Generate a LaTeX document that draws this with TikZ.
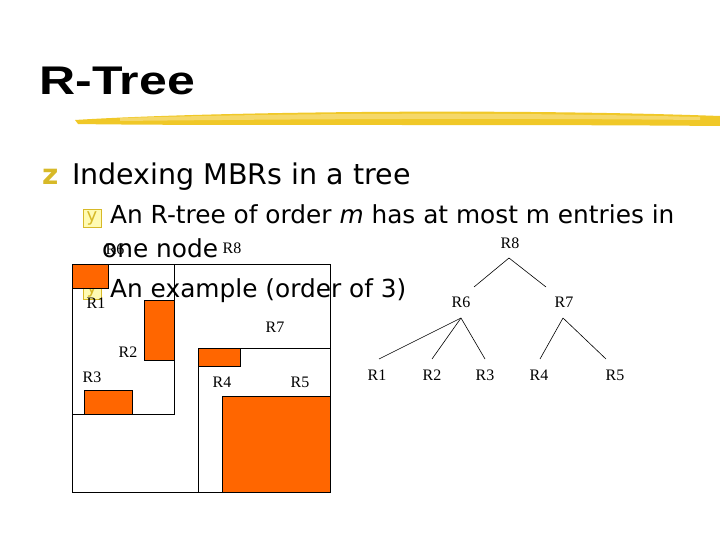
\documentclass[tikz,border=0pt]{standalone}
\usepackage{fontspec}
\setmainfont{Liberation Serif}
\newfontfamily\bodyf{DejaVu Sans}
\newfontfamily\titlef{Liberation Sans}
\definecolor{orng}{RGB}{255,102,0}
\definecolor{gold}{RGB}{240,200,40}
\definecolor{bul}{RGB}{215,185,40}
\begin{document}
\begin{tikzpicture}[x=1pt,y=-1pt,
  box/.style={draw=black,line width=0.8pt},
  obj/.style={draw=black,fill=orng,line width=0.8pt},
  lab/.style={font=\fontsize{16}{16}\selectfont,inner sep=0pt},
  tx/.style={font=\bodyf\fontsize{24.8}{24.8}\selectfont,inner sep=0pt,anchor=base west},
  bulbox/.style={draw=bul,fill=yellow!30,minimum width=18pt,minimum height=18pt,inner sep=0pt,text=bul,font=\bodyf\fontsize{18}{18}\selectfont},
  edge/.style={line width=0.6pt}]
\useasboundingbox (0,0) rectangle (720,540);
% title
\node[font=\titlef\bfseries\fontsize{40}{40}\selectfont,anchor=base west,inner sep=0pt,xscale=1.25] (title) at (39,95) {R-Tree};
\fill[gold] (75,120) .. controls (200,112) and (500,108) .. (720,116) -- (720,126) .. controls (500,124) and (200,126) .. (78,124) -- cycle;
\fill[gold!70!white] (120,118) .. controls (300,113) and (500,112) .. (700,117) -- (700,120) .. controls (500,118) and (300,119) .. (120,121) -- cycle;
% bullets and text
\node[font=\bodyf\bfseries\fontsize{28}{28}\selectfont,text=bul,anchor=base west,inner sep=0pt] (b1) at (42,185) {z};
\node[tx,font=\bodyf\fontsize{28.5}{28.5}\selectfont] (t1) at (72,185) {Indexing MBRs in a tree};
\node[bulbox] (b2) at (92,218) {y};
\node[tx] (t2) at (110,224) {An R-tree of order \textit{m} has at most m entries in};
\node[tx] (t3) at (102,258) {one node};
\node[bulbox] (b3) at (92,290) {y};
\node[tx] (t4) at (110,297) {An example (order of 3)};
% rectangles
\draw[box] (72,264) rectangle (330,492);
\draw[box] (72,264) rectangle (174,414);
\draw[box] (198,348) rectangle (330,492);
\draw[obj] (72,264) rectangle (108,288);
\draw[obj] (144,300) rectangle (174,360);
\draw[obj] (84,390) rectangle (132,414);
\draw[obj] (198,348) rectangle (240,366);
\draw[obj] (222,396) rectangle (330,492);
\node[lab] (l1) at (96,303) {R1};
\node[lab] (l2) at (128,352) {R2};
\node[lab] (l3) at (92,377) {R3};
\node[lab] (l4) at (222,382) {R4};
\node[lab] (l5) at (300,382) {R5};
\node[lab] (l6) at (115,249) {R6};
\node[lab] (l7) at (275,327) {R7};
\node[lab] (l8) at (232,248) {R8};
% tree
\node[lab] (n8) at (510,243) {R8};
\node[lab] (n6) at (461,302) {R6};
\node[lab] (n7) at (564,302) {R7};
\node[lab] (n1) at (377,375) {R1};
\node[lab] (n2) at (432,375) {R2};
\node[lab] (n3) at (485,375) {R3};
\node[lab] (n4) at (539,375) {R4};
\node[lab] (n5) at (615,375) {R5};
\coordinate (a8) at (509,258);
\coordinate (a6) at (461,318);
\coordinate (a7) at (563,318);
\draw[edge] (474,287) -- (a8) -- (546,287);
\draw[edge] (a6) -- (379,359);
\draw[edge] (a6) -- (432,359);
\draw[edge] (a6) -- (485,359);
\draw[edge] (a7) -- (540,359);
\draw[edge] (a7) -- (606,359);
\end{tikzpicture}
\end{document}
